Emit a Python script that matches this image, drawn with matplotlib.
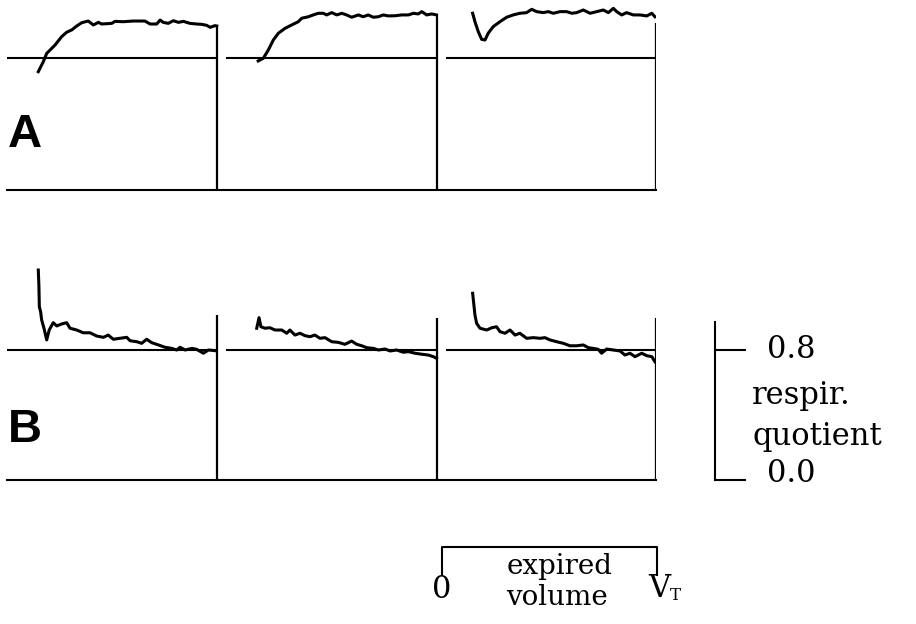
import matplotlib.pyplot as plt
import numpy as np

# expired volume (fraction of V_T) and respiratory quotient
# row A
a1_vol = [0.149, 0.173, 0.189, 0.205, 0.229, 0.260, 0.284, 0.308, 0.332, 0.356, 0.387, 0.411,
          0.435, 0.451, 0.499, 0.514, 0.554, 0.601, 0.657, 0.681, 0.713, 0.729, 0.744, 0.768,
          0.792, 0.816, 0.840, 0.871, 0.903, 0.927, 0.951, 0.967, 0.990, 0.999]
a1_rq = [0.717, 0.778, 0.828, 0.848, 0.879, 0.929, 0.956, 0.970, 0.994, 1.014, 1.024, 1.000,
         1.016, 1.006, 1.010, 1.022, 1.020, 1.024, 1.024, 1.006, 1.006, 1.030, 1.016, 1.010,
         1.026, 1.016, 1.022, 1.010, 1.006, 1.004, 0.998, 0.986, 0.996, 0.994]

a2_vol = [0.151, 0.175, 0.199, 0.223, 0.247, 0.279, 0.310, 0.342, 0.358, 0.390, 0.413, 0.437,
          0.461, 0.477, 0.501, 0.525, 0.549, 0.572, 0.596, 0.628, 0.651, 0.675, 0.699, 0.723,
          0.747, 0.770, 0.802, 0.834, 0.866, 0.890, 0.913, 0.930, 0.953, 0.977, 1.000]
a2_rq = [0.782, 0.798, 0.848, 0.909, 0.950, 0.980, 1.000, 1.020, 1.041, 1.050, 1.061, 1.071,
         1.071, 1.061, 1.075, 1.061, 1.071, 1.061, 1.047, 1.061, 1.050, 1.061, 1.047, 1.050,
         1.061, 1.055, 1.056, 1.061, 1.061, 1.071, 1.067, 1.081, 1.061, 1.067, 1.061]

a3_vol = [0.127, 0.138, 0.154, 0.170, 0.186, 0.201, 0.225, 0.257, 0.289, 0.320, 0.352, 0.384,
          0.408, 0.432, 0.463, 0.487, 0.511, 0.543, 0.575, 0.599, 0.622, 0.654, 0.686, 0.718,
          0.749, 0.773, 0.797, 0.813, 0.837, 0.860, 0.892, 0.924, 0.956, 0.980, 0.995]
a3_rq = [1.071, 1.020, 0.959, 0.913, 0.909, 0.950, 0.990, 1.020, 1.047, 1.061, 1.071, 1.075,
         1.095, 1.081, 1.075, 1.081, 1.071, 1.081, 1.081, 1.071, 1.075, 1.091, 1.071, 1.081,
         1.091, 1.075, 1.101, 1.081, 1.061, 1.075, 1.061, 1.061, 1.055, 1.071, 1.050]

# row B
b1_vol = [0.149, 0.152, 0.154, 0.160, 0.165, 0.176, 0.189, 0.201, 0.220, 0.237, 0.260, 0.284,
          0.300, 0.332, 0.363, 0.395, 0.427, 0.459, 0.482, 0.506, 0.538, 0.570, 0.586, 0.618,
          0.641, 0.665, 0.689, 0.721, 0.752, 0.784, 0.808, 0.824, 0.848, 0.880, 0.903, 0.935,
          0.959, 0.990]
b1_rq = [1.292, 1.190, 1.066, 1.036, 0.985, 0.934, 0.862, 0.923, 0.968, 0.948, 0.960, 0.968,
         0.934, 0.923, 0.906, 0.906, 0.886, 0.878, 0.892, 0.866, 0.872, 0.878, 0.857, 0.851,
         0.841, 0.866, 0.845, 0.831, 0.817, 0.810, 0.800, 0.817, 0.800, 0.810, 0.804, 0.780,
         0.800, 0.796]

b2_vol = [0.144, 0.155, 0.164, 0.183, 0.207, 0.231, 0.263, 0.287, 0.302, 0.326, 0.350, 0.374,
          0.398, 0.421, 0.445, 0.469, 0.501, 0.532, 0.564, 0.596, 0.620, 0.644, 0.668, 0.699,
          0.723, 0.755, 0.779, 0.810, 0.842, 0.866, 0.898, 0.930, 0.961, 0.985, 1.000]
b2_rq = [0.934, 0.999, 0.943, 0.934, 0.937, 0.923, 0.923, 0.903, 0.923, 0.892, 0.903, 0.888,
         0.882, 0.892, 0.872, 0.876, 0.851, 0.847, 0.835, 0.855, 0.835, 0.826, 0.814, 0.810,
         0.800, 0.806, 0.794, 0.800, 0.786, 0.790, 0.780, 0.774, 0.769, 0.759, 0.749]

b3_vol = [0.127, 0.133, 0.138, 0.146, 0.162, 0.194, 0.218, 0.241, 0.257, 0.281, 0.305, 0.329,
          0.352, 0.384, 0.416, 0.448, 0.471, 0.495, 0.527, 0.559, 0.590, 0.622, 0.654, 0.678,
          0.701, 0.725, 0.741, 0.765, 0.797, 0.829, 0.852, 0.876, 0.900, 0.932, 0.956, 0.980,
          0.995]
b3_rq = [1.149, 1.077, 1.015, 0.964, 0.934, 0.923, 0.937, 0.943, 0.913, 0.903, 0.923, 0.892,
         0.903, 0.872, 0.876, 0.872, 0.876, 0.862, 0.851, 0.841, 0.826, 0.826, 0.831, 0.814,
         0.810, 0.804, 0.780, 0.806, 0.800, 0.794, 0.769, 0.780, 0.759, 0.780, 0.765, 0.759,
         0.728]

# height of the end-of-expiration marker in each panel
end_a = [0.99, 1.06, 1.01]
end_b = [1.015, 1.0, 1.0]

REF_RQ = 0.8
STEP = 1.045  # panel spacing in units of V_T

W, H = 916, 624
fig = plt.figure(figsize=(W / 100, H / 100), dpi=100)


def px_axes(left, top, right, bottom):
    return fig.add_axes([left / W, 1 - bottom / H, (right - left) / W, (bottom - top) / H])


serif = {"family": "DejaVu Serif", "size": 22}
serif_s = {"family": "DejaVu Serif", "size": 20}
sans = {"family": "Liberation Sans", "weight": "bold", "size": 34}

ax_a = px_axes(7, 0, 656, 190)
ax_b = px_axes(7, 255, 656, 480)
rows = [
    (ax_a, [(a1_vol, a1_rq), (a2_vol, a2_rq), (a3_vol, a3_rq)], end_a, 190 / 165, "A", 0.26),
    (ax_b, [(b1_vol, b1_rq), (b2_vol, b2_rq), (b3_vol, b3_rq)], end_b, 225 / 162.5, "B", 0.234),
]

for ax, traces, ends, ytop, letter, ly in rows:
    for k, (vol, rq) in enumerate(traces):
        off = k * STEP
        ax.plot(off + np.array(vol), rq, color="k", lw=2.2, solid_joinstyle="round")
        ax.hlines(REF_RQ, off, off + 1, color="k", lw=1.5)
        ax.vlines(off + 1, 0, ends[k], color="k", lw=1.6)
    ax.set_xlim(0, 2 * STEP + 1)
    ax.set_ylim(0, ytop)
    ax.set_xticks([])
    ax.set_yticks([])
    for s in ["top", "left", "right"]:
        ax.spines[s].set_visible(False)
    ax.spines["bottom"].set_linewidth(1.5)
    ax.patch.set_alpha(0)
    ax.text(0.005, ly, letter, fontdict=sans, ha="left", va="baseline")

# RQ scale bar
sx = 3.371
ax_b.plot([sx, sx], [0, 0.97], color="k", lw=1.5, clip_on=False)
ax_b.plot([sx, 3.514], [REF_RQ, REF_RQ], color="k", lw=1.5, clip_on=False)
ax_b.plot([sx, 3.514], [0, 0], color="k", lw=1.5, clip_on=False)
ax_b.text(3.62, 0.806, "0.8", fontdict=serif, ha="left", va="center")
ax_b.text(3.548, 0.523, "respir.", fontdict=serif, ha="left", va="center")
ax_b.text(3.548, 0.265, "quotient", fontdict=serif, ha="left", va="center")
ax_b.text(3.62, 0.043, "0.0", fontdict=serif, ha="left", va="center")

# expired volume bracket under the third panel
x0 = 2 * STEP - 0.02
x1 = 2 * STEP + 1.005
ax_b.plot([x0, x0, x1, x1], [-0.585, -0.412, -0.412, -0.585], color="k", lw=1.5, clip_on=False)
ax_b.text(2.071, -0.671, "0", fontdict=serif, ha="center", va="center")
ax_b.text(2.629, -0.58, "expired", fontdict=serif_s, ha="center", va="baseline")
ax_b.text(2.62, -0.772, "volume", fontdict=serif_s, ha="center", va="baseline")
ax_b.text(3.052, -0.72, "V", fontdict=serif, ha="left", va="baseline")
ax_b.text(3.155, -0.74, "T", family="DejaVu Serif", size=12, ha="left", va="baseline")

fig.savefig("out.png", dpi=100)
